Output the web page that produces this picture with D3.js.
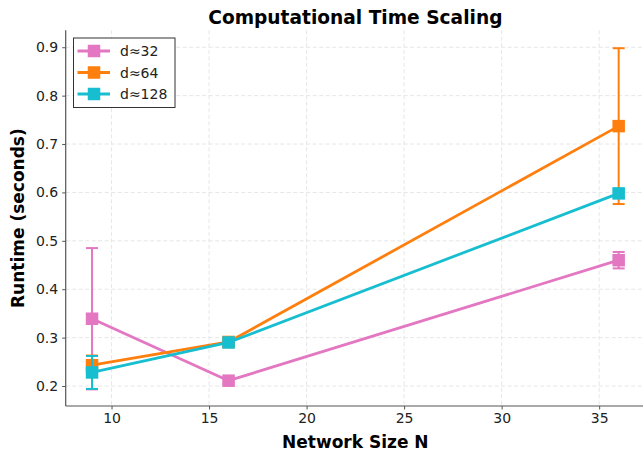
<!DOCTYPE html>
<html><head><meta charset="utf-8">
<script src="https://cdn.jsdelivr.net/npm/d3@7"></script>
<style>body{margin:0;background:#fff}svg{display:block;font-family:"DejaVu Sans",sans-serif}</style>
</head><body><svg id="c" width="643" height="455"></svg>
<script>
const networkSizes = [9, 16, 36];
const seriesNames = ["d≈32", "d≈64", "d≈128"];
const seriesColors = ["#e377c2", "#ff7f0e", "#17becf"];
const runtimeD32 = [0.339, 0.211, 0.460];
const errD32 = [0.146, 0.006, 0.017];
const runtimeD64 = [0.243, 0.291, 0.737];
const errD64 = [0.020, 0.005, 0.161];
const runtimeD128 = [0.228, 0.290, 0.598];
const errD128 = [0.034, 0.005, 0.008];
const xTicks = [10, 15, 20, 25, 30, 35];
const yTicks = [0.2, 0.3, 0.4, 0.5, 0.6, 0.7, 0.8, 0.9];

const series = [
  {name: seriesNames[0], color: seriesColors[0], vals: runtimeD32, errs: errD32},
  {name: seriesNames[1], color: seriesColors[1], vals: runtimeD64, errs: errD64},
  {name: seriesNames[2], color: seriesColors[2], vals: runtimeD128, errs: errD128}
];

const svg = d3.select("#c");
const L = 65.7, R = 645, T = 30.3, B = 406;
const x = d3.scaleLinear().domain([7.65, 37.35]).range([L, R]);
const y = d3.scaleLinear().domain([0.1587, 0.935]).range([B, T]);

// grid
const g = svg.append("g");
g.selectAll(".gx").data(xTicks).enter().append("line")
  .attr("x1", d => x(d)).attr("x2", d => x(d)).attr("y1", T).attr("y2", B)
  .attr("stroke", "#e3e3e3").attr("stroke-width", 0.9).attr("stroke-dasharray", "4,2.5");
g.selectAll(".gy").data(yTicks).enter().append("line")
  .attr("y1", d => y(d)).attr("y2", d => y(d)).attr("x1", L).attr("x2", R)
  .attr("stroke", "#e3e3e3").attr("stroke-width", 0.9).attr("stroke-dasharray", "4,2.5");

// axes
const xAxis = svg.append("g").attr("transform", `translate(0,${B})`)
  .call(d3.axisBottom(x).tickValues(xTicks).tickSize(3.5).tickPadding(4).tickFormat(d3.format("d")));
const yAxis = svg.append("g").attr("transform", `translate(${L},0)`)
  .call(d3.axisLeft(y).tickValues(yTicks).tickSize(3.5).tickPadding(4).tickFormat(d3.format(".1f")));
[xAxis, yAxis].forEach(a => {
  a.select(".domain").attr("stroke", "#555").attr("stroke-width", 1.2);
  a.selectAll(".tick line").attr("stroke", "#555").attr("stroke-width", 1);
  a.selectAll(".tick text").attr("fill", "#222").style("font-size", "14px").style("font-family", "DejaVu Sans");
});
xAxis.select(".domain").attr("d", `M${L},0H${R}`);
yAxis.select(".domain").attr("d", `M0,${B}V${T}`);

// series
const line = d3.line().x(d => x(d.n)).y(d => y(d.v));
const cap = 6, ms = 12.5;
series.forEach(s => {
  const pts = networkSizes.map((n, i) => ({n, v: s.vals[i], e: s.errs[i]}));
  const sg = svg.append("g");
  sg.append("path").datum(pts).attr("d", line).attr("fill", "none")
    .attr("stroke", s.color).attr("stroke-width", 2.8).attr("stroke-linejoin", "round");
  pts.forEach(p => {
    const y0 = y(p.v - p.e), y1 = y(p.v + p.e), cx = x(p.n);
    sg.append("line").attr("x1", cx).attr("x2", cx).attr("y1", y0).attr("y2", y1)
      .attr("stroke", s.color).attr("stroke-width", 2);
    [y0, y1].forEach(yy => sg.append("line").attr("x1", cx - cap).attr("x2", cx + cap)
      .attr("y1", yy).attr("y2", yy).attr("stroke", s.color).attr("stroke-width", 2));
  });
  sg.selectAll("rect").data(pts).enter().append("rect")
    .attr("x", d => x(d.n) - ms / 2).attr("y", d => y(d.v) - ms / 2)
    .attr("width", ms).attr("height", ms).attr("fill", s.color);
});

// legend
const lg = svg.append("g");
lg.append("rect").attr("x", 73.5).attr("y", 38).attr("width", 101.5).attr("height", 69.5)
  .attr("fill", "#fff").attr("stroke", "#333").attr("stroke-width", 1);
series.forEach((s, i) => {
  const yy = 51 + i * 21.5;
  lg.append("line").attr("x1", 77.5).attr("x2", 110).attr("y1", yy).attr("y2", yy)
    .attr("stroke", s.color).attr("stroke-width", 2.8);
  lg.append("rect").attr("x", 94 - ms / 2).attr("y", yy - ms / 2).attr("width", ms).attr("height", ms)
    .attr("fill", s.color);
  lg.append("text").attr("x", 120).attr("y", yy + 5).text(s.name)
    .style("font-size", "14px").attr("fill", "#222");
});

// labels
svg.append("text").attr("x", (L + R) / 2).attr("y", 24).attr("text-anchor", "middle")
  .style("font-size", "18.6px").style("font-weight", "bold").text("Computational Time Scaling");
svg.append("text").attr("x", (L + R) / 2).attr("y", 448).attr("text-anchor", "middle")
  .style("font-size", "17px").style("font-weight", "bold").text("Network Size N");
svg.append("text").attr("transform", `translate(24,${(T + B) / 2}) rotate(-90)`).attr("text-anchor", "middle")
  .style("font-size", "17px").style("font-weight", "bold").text("Runtime (seconds)");
</script></body></html>
